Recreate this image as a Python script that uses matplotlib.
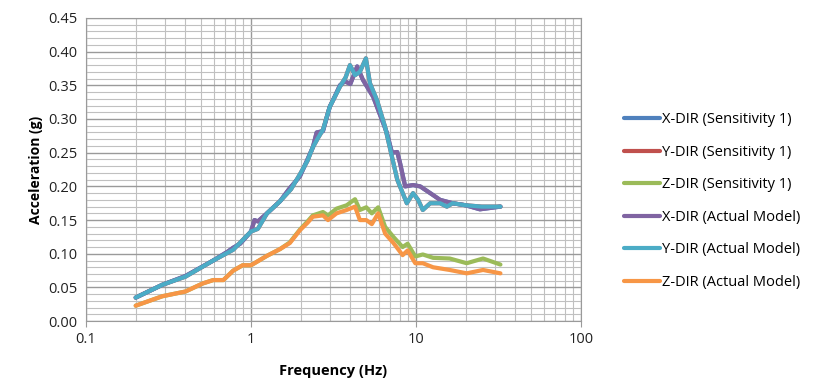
import matplotlib.pyplot as plt
from matplotlib.ticker import LogLocator, MultipleLocator, FixedFormatter, FixedLocator

# X direction (actual model)
x_freq = [0.2, 0.29, 0.4, 0.59, 0.72, 0.78, 0.86, 1.0, 1.05, 1.1, 1.25, 1.5, 1.7, 1.98, 2.2,
          2.37, 2.5, 2.73, 3.0, 3.2, 3.46, 3.7, 4.0, 4.4, 4.77, 5.5, 6.65, 7.15, 7.7, 8.0,
          8.6, 9.6, 10.6, 12.2, 14.0, 16.7, 20.0, 24.4, 32.5]
x_acc = [0.035, 0.054, 0.067, 0.090, 0.103, 0.109, 0.115, 0.133, 0.150, 0.148, 0.160, 0.178,
         0.196, 0.215, 0.240, 0.258, 0.280, 0.282, 0.318, 0.332, 0.350, 0.356, 0.352, 0.378,
         0.358, 0.333, 0.280, 0.250, 0.251, 0.235, 0.200, 0.202, 0.200, 0.190, 0.180, 0.175,
         0.172, 0.166, 0.170]

# Y direction (actual model)
y_freq = [0.2, 0.29, 0.4, 0.59, 0.78, 1.0, 1.1, 1.25, 1.5, 1.75, 1.98, 2.2, 2.37, 2.55, 2.73,
          3.0, 3.46, 3.75, 3.98, 4.27, 4.57, 4.97, 5.26, 5.8, 6.5, 7.15, 7.7, 8.8, 9.6, 10.3,
          11.0, 12.2, 14.0, 15.4, 16.7, 20.0, 25.0, 32.5]
y_acc = [0.035, 0.054, 0.066, 0.090, 0.106, 0.133, 0.137, 0.160, 0.178, 0.196, 0.218, 0.238,
         0.258, 0.272, 0.284, 0.318, 0.348, 0.362, 0.380, 0.365, 0.370, 0.390, 0.353, 0.328,
         0.288, 0.244, 0.210, 0.175, 0.190, 0.180, 0.165, 0.175, 0.175, 0.170, 0.175, 0.172,
         0.170, 0.170]

# Z direction (actual model)
z_freq = [0.2, 0.29, 0.4, 0.51, 0.59, 0.68, 0.78, 0.89, 1.0, 1.25, 1.5, 1.72, 1.98, 2.2,
          2.37, 2.73, 2.93, 3.3, 3.8, 4.27, 4.57, 5.0, 5.4, 5.9, 6.5, 7.3, 8.3, 8.9, 9.9,
          11.0, 12.7, 16.0, 20.3, 25.5, 32.5]
z_acc = [0.023, 0.037, 0.044, 0.056, 0.061, 0.061, 0.075, 0.083, 0.083, 0.097, 0.107, 0.116,
         0.135, 0.146, 0.155, 0.157, 0.150, 0.160, 0.165, 0.170, 0.150, 0.150, 0.144, 0.160,
         0.130, 0.116, 0.098, 0.105, 0.086, 0.086, 0.080, 0.076, 0.071, 0.076, 0.071]

# Z direction (sensitivity 1)
zs_acc = [0.023, 0.037, 0.044, 0.056, 0.061, 0.061, 0.075, 0.083, 0.083, 0.097, 0.107, 0.117,
          0.136, 0.148, 0.157, 0.162, 0.157, 0.167, 0.172, 0.181, 0.165, 0.169, 0.160, 0.169,
          0.140, 0.125, 0.110, 0.115, 0.096, 0.099, 0.094, 0.093, 0.086, 0.093, 0.084]

series = [
    ('X-DIR (Sensitivity 1)', x_freq, x_acc, '#4F81BD'),
    ('Y-DIR (Sensitivity 1)', y_freq, y_acc, '#C0504D'),
    ('Z-DIR (Sensitivity 1)', z_freq, zs_acc, '#9BBB59'),
    ('X-DIR (Actual Model)', x_freq, x_acc, '#8064A2'),
    ('Y-DIR (Actual Model)', y_freq, y_acc, '#4BACC6'),
    ('Z-DIR (Actual Model)', z_freq, z_acc, '#F79646'),
]

plt.rcParams['font.family'] = ['Open Sans', 'DejaVu Sans']

fig = plt.figure(figsize=(8.14, 3.81), dpi=100)
ax = fig.add_axes([0.1057, 0.157, 0.608, 0.796])

for name, fx, fy, col in series:
    ax.plot(fx, fy, color=col, lw=3.0, label=name, solid_capstyle='round')

ax.set_xscale('log')
ax.set_xlim(0.1, 100)
ax.set_ylim(0, 0.45)
ax.xaxis.set_major_locator(FixedLocator([0.1, 1, 10, 100]))
ax.xaxis.set_major_formatter(FixedFormatter(['0.1', '1', '10', '100']))
ax.xaxis.set_minor_locator(LogLocator(base=10, subs=range(2, 10)))
ax.yaxis.set_major_locator(MultipleLocator(0.05))
ax.yaxis.set_minor_locator(MultipleLocator(0.01))
ax.yaxis.set_major_formatter(plt.FormatStrFormatter('%.2f'))

ax.grid(which='major', color='#9a9a9a', lw=1.0)
ax.grid(which='minor', color='#c0c0c0', lw=0.8)
ax.set_axisbelow(True)
for s in ax.spines.values():
    s.set_color('#9a9a9a')
ax.tick_params(which='both', length=0, labelsize=10.5, colors='#222222', pad=6)
ax.tick_params(axis='x', which='major', length=4, color='#9a9a9a', pad=4)

ax.set_xlabel('Frequency (Hz)', fontsize=10.5, fontweight='bold', labelpad=12)
ax.set_ylabel('Acceleration (g)', fontsize=10, fontweight='bold', labelpad=4)

fig.legend(loc='center left', bbox_to_anchor=(0.750, 0.472), frameon=False, fontsize=10.5,
           handlelength=2.5, handletextpad=0.1, labelspacing=1.2)

plt.savefig('out.png', dpi=100)
